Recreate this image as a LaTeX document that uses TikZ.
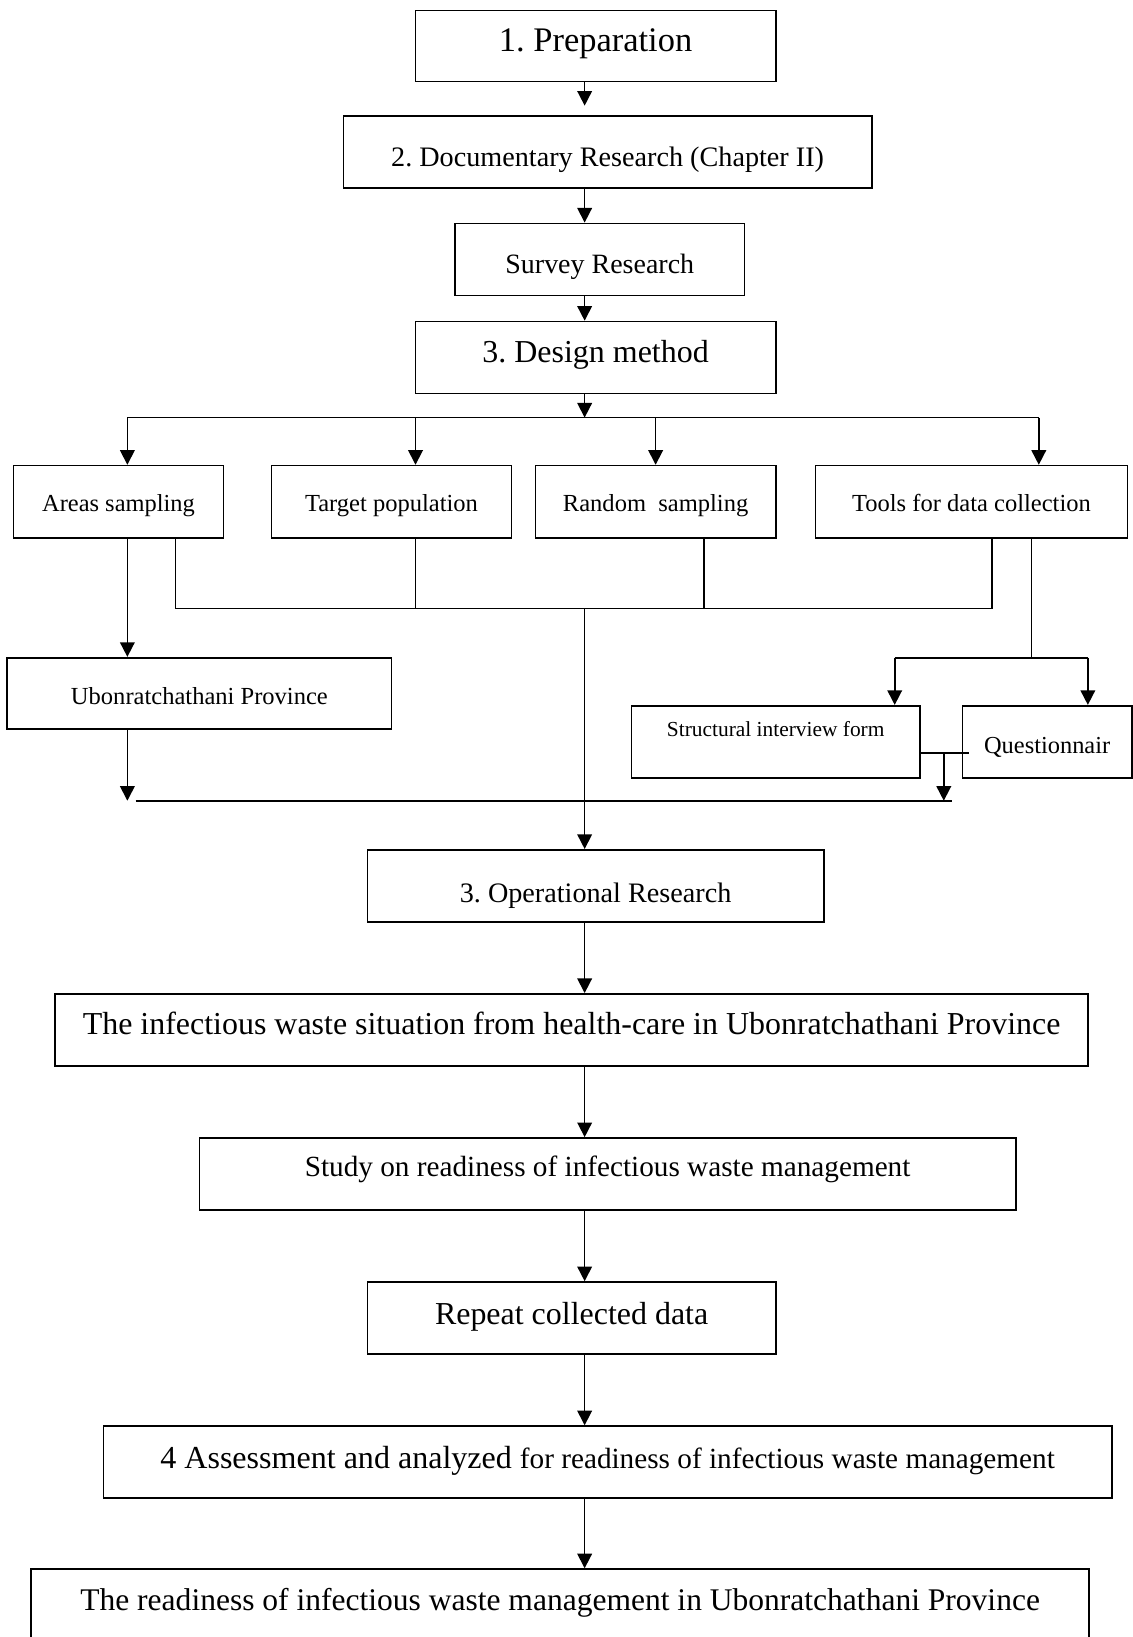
\documentclass[tikz,border=0pt]{standalone}
\usepackage{fontspec}
\setmainfont{Liberation Serif}
\usetikzlibrary{arrows.meta}

\newcommand{\txtsize}[1]{\fontsize{#1}{#1}\selectfont}
\newcommand{\movetxt}[2]{\raisebox{#1}[\height][\depth]{#2}}

\tikzset{
  box/.style={draw, line width=1.6pt, inner sep=0pt, align=center},
  ln/.style={line width=1.6pt},
  arr/.style={-{Triangle[length=14pt,width=14pt]}},
}

\begin{document}
\frenchspacing
\begin{tikzpicture}[x=1pt,y=1pt,yscale=-1,xscale=1]
\useasboundingbox (0,0) rectangle (1085,1568);
\clip (0,0) rectangle (1085,1568);

%Shape: Rectangles (main column)
\node[box, minimum width=345pt, minimum height=68pt] (prep) at (570.5,44) {\txtsize{33}\movetxt{2pt}{1. Preparation}};
\node[box, minimum width=506pt, minimum height=69pt] (doc) at (582,145.5) {\txtsize{27}\movetxt{-8pt}{2. Documentary Research (Chapter II)}};
\node[box, minimum width=277pt, minimum height=69pt] (survey) at (574.5,248.5) {\txtsize{26.8}\movetxt{-7pt}{Survey Research}};
\node[box, minimum width=345pt, minimum height=69pt] (design) at (570.5,342.5) {\txtsize{30.6}\movetxt{3pt}{3. Design method}};

%Shape: Rectangles (design branches)
\node[box, minimum width=201pt, minimum height=69pt] (areas) at (113.5,480.5) {\txtsize{23.4}\movetxt{-4pt}{Areas sampling}};
\node[box, minimum width=230pt, minimum height=69pt] (target) at (375,480.5) {\txtsize{23.5}\movetxt{-4pt}{Target population}};
\node[box, minimum width=230pt, minimum height=69pt] (random) at (628,480.5) {\txtsize{23.5}\movetxt{-4pt}{Random\ \ sampling}};
\node[box, minimum width=299pt, minimum height=69pt] (tools) at (930.5,480.5) {\txtsize{23.5}\movetxt{-1pt}{Tools for data collection}};
\node[box, minimum width=368pt, minimum height=68pt] (ubon) at (191,664) {\txtsize{23.5}\movetxt{-3pt}{Ubonratchathani Province}};
\node[box, minimum width=276pt, minimum height=69pt, text height=20pt, text depth=31pt] (struct) at (743,710.5) {\txtsize{20.5}Structural interview form};
\node[box, minimum width=162pt, minimum height=69pt] (quest) at (1003,710.5) {\txtsize{23.4}\movetxt{-5pt}{Questionnair}};

%Shape: Rectangles (lower column)
\node[box, minimum width=437pt, minimum height=69pt] (oper) at (570.5,848.5) {\txtsize{27}\movetxt{-9pt}{3. Operational Research}};
\node[box, minimum width=989pt, minimum height=69pt] (sit) at (547.5,986.5) {\txtsize{30.6}\movetxt{6pt}{The infectious waste situation from health-care in Ubonratchathani Province}};
\node[box, minimum width=782pt, minimum height=69pt] (study) at (582,1124.5) {\txtsize{28}\movetxt{4pt}{Study on readiness of infectious waste management}};
\node[box, minimum width=391pt, minimum height=69pt] (rep) at (547.5,1262.5) {\txtsize{30.6}\movetxt{1pt}{Repeat collected data}};
\node[box, minimum width=966pt, minimum height=69pt] (assess) at (582,1400.5) {\movetxt{1pt}{\txtsize{30.7}4 Assessment and analyzed \txtsize{28}for readiness of infectious waste management}};
\node[box, minimum width=1013pt, minimum height=69pt] (ready) at (536.5,1537.5) {\txtsize{30.2}\movetxt{2pt}{The readiness of infectious waste management in Ubonratchathani Province}};

%Coordinates for the connectors
\coordinate (spine) at (560,0);
\coordinate (busA) at (122,400);
\coordinate (busT) at (398,400);
\coordinate (busR) at (628,400);
\coordinate (busD) at (995,400);
\coordinate (colA) at (168,583);
\coordinate (colR) at (674,583);
\coordinate (colD) at (950,583);
\coordinate (split) at (988,630);
\coordinate (splitL) at (857,630);
\coordinate (splitR) at (1042,630);
\coordinate (mergeQ) at (928,721);
\coordinate (merge) at (904,721);
\coordinate (baseL) at (130,767);
\coordinate (baseR) at (912,767);

%Straight Lines: main column
\draw[ln,arr,shorten >=9pt] (prep.south -| spine) -- (doc.north -| spine);
\foreach \a/\b in {doc/survey, survey/design}
  \draw[ln,arr] (\a.south -| spine) -- (\b.north -| spine);
\draw[ln,arr] (design.south -| spine) -- (spine |- busA);

%Straight Lines: branching bus
\draw[ln] (busA) -- (busD);
\foreach \c/\n in {busA/areas, busT/target, busR/random, busD/tools}
  \draw[ln,arr] (\c) -- (\n.north -| \c);

%Straight Lines: collecting line
\draw[ln] (areas.south -| colA) -- (colA) -- (colD) -- (tools.south -| colD);
\draw[ln] (target.south -| busT) -- (busT |- colA);
\draw[ln] (random.south -| colR) -- (colR);
\draw[ln,arr] (spine |- colA) -- (oper.north -| spine);

%Straight Lines: areas sampling
\draw[ln,arr] (areas.south -| busA) -- (ubon.north -| busA);
\draw[ln,arr] (ubon.south -| busA) -- (busA |- baseL);
\draw[ln] (baseL) -- (baseR);

%Straight Lines: tools
\draw[ln] (tools.south -| split) -- (split);
\draw[ln] (splitL) -- (splitR);
\draw[ln,arr] (splitL) -- (struct.north -| splitL);
\draw[ln,arr] (splitR) -- (quest.north -| splitR);
\draw[ln] (struct.east |- mergeQ) -- (mergeQ);
\draw[ln,arr] (merge) -- (merge |- baseR);

%Straight Lines: lower column
\foreach \a/\b in {oper/sit, sit/study, study/rep, rep/assess, assess/ready}
  \draw[ln,arr] (\a.south -| spine) -- (\b.north -| spine);
\end{tikzpicture}
\end{document}
